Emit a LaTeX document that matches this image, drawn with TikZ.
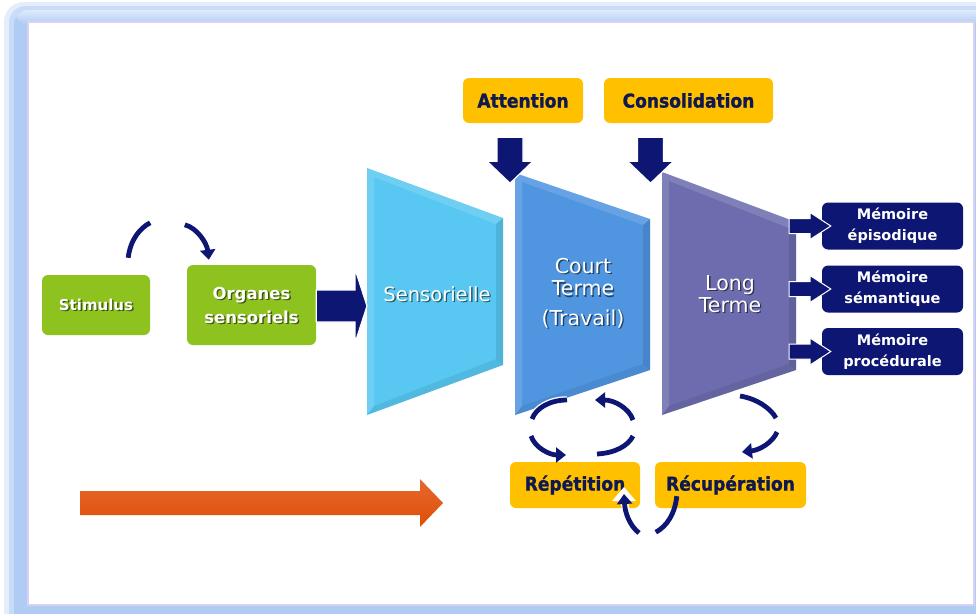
\documentclass[tikz,border=0pt]{standalone}
\usepackage{fontspec}
\setmainfont{DejaVu Sans}
\newfontfamily\condf[BoldFeatures={FakeBold=1.2}]{DejaVu Sans Condensed}
\usetikzlibrary{arrows.meta,calc}
\definecolor{navy}{HTML}{0E1673}
\definecolor{navytxt}{HTML}{101850}
\definecolor{lgreen}{HTML}{8DC21F}
\definecolor{gold}{HTML}{FFC000}
\definecolor{cyanb}{HTML}{58C8F2}
\definecolor{midb}{HTML}{4F95E0}
\definecolor{violb}{HTML}{6C6CAE}
\definecolor{redor}{HTML}{E04E08}
\definecolor{frameb}{HTML}{B0CCF4}
\definecolor{lav}{HTML}{D8D2F0}
\newcommand\shtext[4][]{%
  \node[#1, text=black, opacity=.55] (#2-sh) at ($#3+(1.4,1.4)$) {#4};
  \node[#1, text=white] (#2) at #3 {#4};}
\newcommand\bevtrap[8]{% name, x1, y1t, y1b, x2, y2t, y2b, color
  \fill[#8] (#2,#3) coordinate (#1-tl) -- (#5,#6) coordinate (#1-tr) -- (#5,#7) coordinate (#1-br) -- (#2,#4) coordinate (#1-bl) -- cycle;
  \fill[white,opacity=.14] (#1-tl) -- (#1-tr) -- ($(#1-tr)+(-7,6)$) -- ($(#1-tl)+(7,9)$) -- cycle;
  \fill[black,opacity=.10] (#1-tr) -- (#1-br) -- ($(#1-br)+(-7,-6)$) -- ($(#1-tr)+(-7,6)$) -- cycle;
  \fill[black,opacity=.07] (#1-bl) -- (#1-br) -- ($(#1-br)+(-7,-6)$) -- ($(#1-bl)+(7,-9)$) -- cycle;
  \fill[white,opacity=.14] (#1-tl) -- (#1-bl) -- ($(#1-bl)+(7,-9)$) -- ($(#1-tl)+(7,9)$) -- cycle;}
\tikzset{
  greenbox/.style={fill=lgreen, rounded corners=6, inner sep=0, align=center, text=white},
  goldbox/.style={fill=gold, rounded corners=6, inner sep=0, align=center, text=navytxt,
     font=\condf\bfseries\fontsize{19}{22}\selectfont},
  membox/.style={fill=navy, rounded corners=6, inner sep=0, minimum width=141, minimum height=47,
     align=center, text=white, font=\bfseries\fontsize{14.5}{21}\selectfont},
  carrow/.style={draw=navy, line width=4.8pt, -{Triangle[length=10pt,width=15pt]}},
  cline/.style={draw=navy, line width=4.8pt},
  wline/.style={draw=white, line width=7.5pt},
  blockarrow/.style={fill=navy, draw=white, line width=1.2pt},
}
\begin{document}
\begin{tikzpicture}[x=1pt,y=-1pt]
\useasboundingbox (0,0) rectangle (976,613);
% frame
\fill[frameb!35, rounded corners=20] (4,2) rectangle (1000,640);
\fill[frameb!70, rounded corners=17] (9,6) rectangle (1000,640);
\fill[frameb, rounded corners=14] (14,10) rectangle (1000,640);
\shade[top color=frameb!40, bottom color=frameb, rounded corners=14] (14,10) rectangle (1000,24);
\fill[white] (28,22) rectangle (974,605);
\draw[lav, line width=1.2pt] (28,22) rectangle (974,605);

% top boxes
\node[goldbox, minimum width=120, minimum height=45] (att) at (523,100.5) {Attention};
\node[goldbox, minimum width=169, minimum height=45] (cons) at (688.5,100.5) {Consolidation};

% trapezoids
\bevtrap{sen}{367}{168}{415}{503}{218}{365}{cyanb}
\bevtrap{ct}{515}{173}{415}{650}{219}{370}{midb}
\bevtrap{lt}{662}{172}{415}{796}{222}{370}{violb}

\shtext[font=\fontsize{19.5}{22}\selectfont]{sens}{(437,294)}{Sensorielle}
\shtext[font=\fontsize{20.5}{22.5}\selectfont, align=center]{court}{(583,293)}{Court\\Terme\\[7pt](Travail)}
\shtext[font=\fontsize{20.5}{21.5}\selectfont, align=center]{long}{(730,294)}{Long\\Terme}

% down arrows
\path (att.south) ++(-13,14) coordinate (da1);
\path (cons.south) ++(-38,14) coordinate (da2);
\foreach \c in {da1,da2}{
  \filldraw[blockarrow] ($(\c)+(-13,0)$) -- ($(\c)+(13,0)$) -- ($(\c)+(13,24)$) -- ($(\c)+(23,24)$)
     -- ($(\c)+(0,46)$) -- ($(\c)+(-23,24)$) -- ($(\c)+(-13,24)$) -- cycle;}

% green boxes
\node[greenbox, minimum width=108, minimum height=60] (stim) at (96,305) {};
\shtext[font=\bfseries\fontsize{15}{18}\selectfont]{stimt}{(stim.center)}{Stimulus}
\node[greenbox, minimum width=129, minimum height=80] (org) at (251.5,305) {};
\shtext[font=\bfseries\fontsize{16.5}{24}\selectfont, align=center]{orgt}{(org.center)}{Organes\\sensoriels}

% arrow organes -> sensorielle
\filldraw[blockarrow] (org.east|-0,290) -- (355,290) -- (355,269) -- (sen-tl|-0,306) coordinate (senin)
   -- (355,343) -- (355,322) -- (org.east|-0,322) -- cycle;

% stimulus arcs
\draw[cline] ($(stim.north east)+(-22,-17)$) coordinate (s1) .. controls ($(s1)+(2,-18)$) and ($(s1)+(12,-30)$) .. ($(s1)+(22,-35)$);
\draw[carrow] ($(org.north west)+(-2,-40)$) coordinate (s2) .. controls ($(s2)+(12,3)$) and ($(s2)+(22,18)$) .. ($(s2)+(24,35)$);

% memory boxes
\node[membox] (epi) at (892.5,226) {Mémoire\\épisodique};
\node[membox] (sem) at (892.5,289) {Mémoire\\sémantique};
\node[membox] (pro) at (892.5,351.5) {Mémoire\\procédurale};
\foreach \m in {epi,sem,pro}{
  \filldraw[blockarrow, line width=1pt] (789,0|-\m.west) ++(0,-7.5) -- ++(21,0) -- ++(0,-6) -- ($(\m.west)+(9,0)$) -- ($(810,0|-\m.west)+(0,13.5)$) -- ++(0,-6) -- ++(-21,0) -- cycle;}

% bottom boxes
\node[goldbox, minimum width=130, minimum height=46] (rep) at (575,485) {Répétition};
\node[goldbox, minimum width=151, minimum height=46] (rec) at (730.5,485) {Récupération};

% court terme cycle
\draw[wline] (567,400) .. controls (550,400) and (536,408) .. (532,419);
\draw[cline] (567,400) .. controls (550,400) and (536,408) .. (532,419);
\draw[wline] (633,420) .. controls (629,408) and (614,400) .. (598,400);
\draw[carrow] (633,420) .. controls (629,408) and (614,400) .. (595,400);
\draw[carrow] (531,436) .. controls (535,448) and (550,455) .. (566,455);
\draw[cline] (597,454) .. controls (615,453) and (628,446) .. (633,436);

% long terme cycle
\draw[wline] (740,396) .. controls (758,399) and (771,409) .. (776,418);
\draw[cline] (740,396) .. controls (758,399) and (771,409) .. (776,418);
\draw[carrow] (777,432) .. controls (773,442) and (760,450) .. (742,452);

% recuperation -> repetition
\draw[cline] (rec.south west) ++(22,-12) coordinate (r1) .. controls ($(r1)+(-2,18)$) and ($(r1)+(-10,30)$) .. ($(r1)+(-21,36)$);
\draw[draw=white, line width=7.5pt] (639,533) .. controls (629,525) and (625,512) .. (624,497);
\fill[white] (612,501) -- (624,487) -- (636,501) -- cycle;
\draw[carrow] (639,533) .. controls (629,525) and (625,512) .. (624,494);

% orange arrow
\shade[top color=redor!85!white, bottom color=redor] (80,491) -- (420,491) -- (420,479) -- (443,503) coordinate (otip) -- (420,527) -- (420,515) -- (80,515) -- cycle;
\end{tikzpicture}
\end{document}
